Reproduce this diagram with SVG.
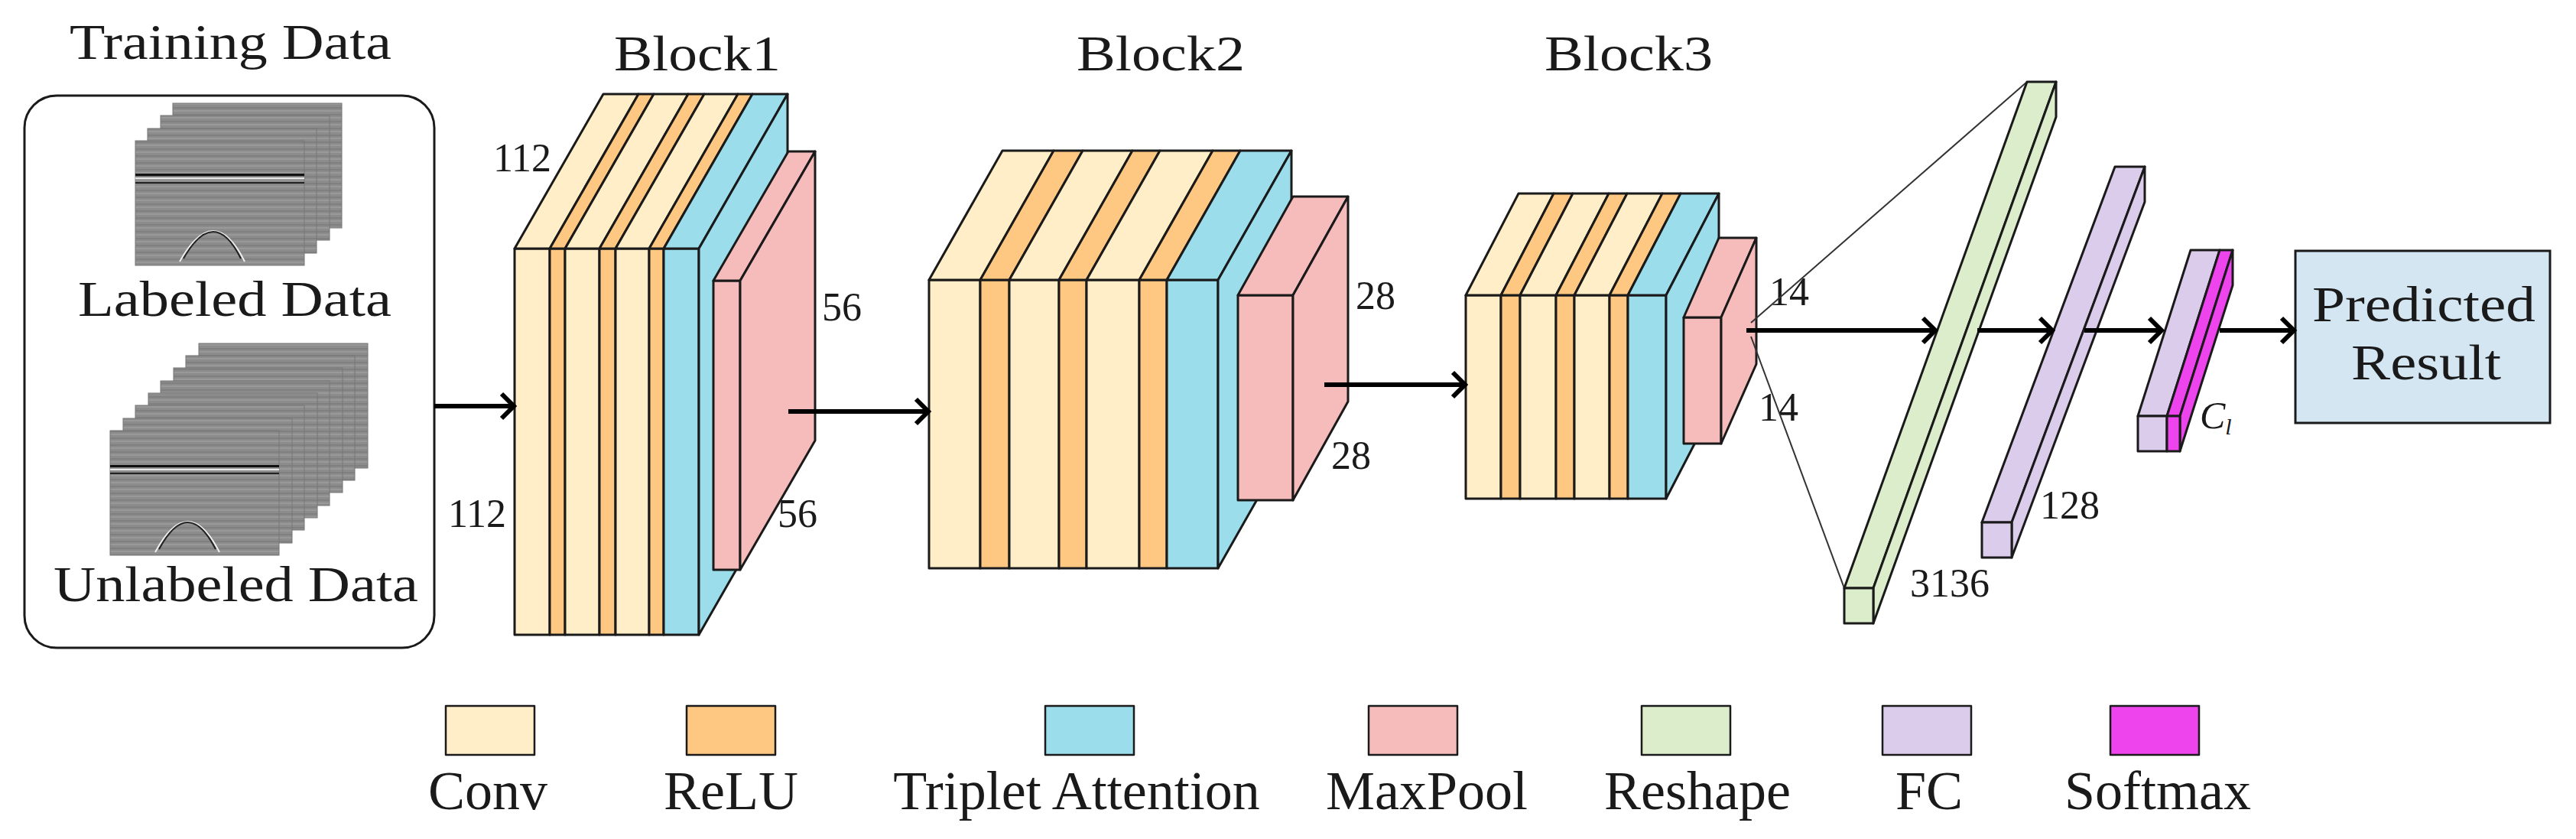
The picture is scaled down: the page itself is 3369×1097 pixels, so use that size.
<svg xmlns="http://www.w3.org/2000/svg" width="3369" height="1097" viewBox="0 0 3369 1097" font-family="'Liberation Serif', 'DejaVu Serif', 'Times New Roman', serif">
<style>
text{font-family:'Liberation Serif','DejaVu Serif','Times New Roman',serif;fill:#1a1a1a}
.t{font-size:66px}
.l{font-size:72px;text-anchor:middle}
.n{font-size:52px}
.s{stroke:#1a1a1a;stroke-width:3;stroke-linejoin:round}
.c{fill:#FFEEC8}.o{fill:#FFC882}.b{fill:#9CDDEC}.p{fill:#F6BCBC}.g{fill:#DCEDCC}.f{fill:#DCCCEC}.m{fill:#EE44EE}
.a{stroke:#000;stroke-width:6;fill:none}
.img{fill:url(#seis);stroke:#777;stroke-width:1}
</style>
<defs>
<pattern id="seis" width="8" height="9" patternUnits="userSpaceOnUse">
<rect width="8" height="9" fill="#8c8c8c"/>
<rect y="0" width="8" height="2" fill="#999"/>
<rect y="5" width="8" height="2" fill="#808080"/>
</pattern>
<path id="hd" d="M-16,-16 L0,0 L-16,16" fill="none" stroke="#000" stroke-width="6" stroke-linejoin="miter"/>
</defs>

<g id="training">
<text class="t" x="91" y="77" textLength="421" lengthAdjust="spacingAndGlyphs">Training Data</text>
<rect x="32" y="125" width="536" height="722" rx="42" fill="#fff" stroke="#1a1a1a" stroke-width="3"/>
<g id="labeled">
<rect class="img" x="226" y="135" width="221" height="163"/>
<rect class="img" x="210" y="151" width="221" height="163"/>
<rect class="img" x="193" y="168" width="221" height="163"/>
<rect class="img" x="177" y="184" width="221" height="163"/>
<rect x="177" y="227" width="221" height="3" fill="#111"/>
<rect x="177" y="232" width="221" height="2" fill="#e8e8e8"/>
<rect x="177" y="238" width="221" height="2" fill="#222"/>
<path d="M235,342 Q280,262 320,342" fill="none" stroke="#eee" stroke-width="2"/>
<path d="M240,338 Q280,268 315,338" fill="none" stroke="#222" stroke-width="2"/>
<text class="t" x="102" y="413" textLength="410" lengthAdjust="spacingAndGlyphs">Labeled Data</text>
</g>
<g id="unlabeled">
<rect class="img" x="260" y="449" width="221" height="163"/>
<rect class="img" x="243" y="465" width="221" height="163"/>
<rect class="img" x="227" y="481" width="221" height="163"/>
<rect class="img" x="210" y="498" width="221" height="163"/>
<rect class="img" x="194" y="514" width="221" height="163"/>
<rect class="img" x="177" y="530" width="221" height="163"/>
<rect class="img" x="161" y="547" width="221" height="163"/>
<rect class="img" x="144" y="563" width="221" height="163"/>
<rect x="144" y="608" width="221" height="3" fill="#111"/>
<rect x="144" y="613" width="221" height="2" fill="#e8e8e8"/>
<rect x="144" y="618" width="221" height="2" fill="#222"/>
<path d="M203,722 Q246,642 287,722" fill="none" stroke="#eee" stroke-width="2"/>
<path d="M208,718 Q246,648 282,718" fill="none" stroke="#222" stroke-width="2"/>
<text class="t" x="70" y="786" textLength="477" lengthAdjust="spacingAndGlyphs">Unlabeled Data</text>
</g>
</g>

<g id="block1">
<text class="t" x="803" y="92" textLength="218" lengthAdjust="spacingAndGlyphs">Block1</text>
<g class="s">
<rect class="c" x="673" y="325" width="46" height="505"/><rect class="o" x="719" y="325" width="20" height="505"/>
<rect class="c" x="739" y="325" width="45" height="505"/><rect class="o" x="784" y="325" width="21" height="505"/>
<rect class="c" x="805" y="325" width="44" height="505"/><rect class="o" x="849" y="325" width="19" height="505"/>
<rect class="b" x="868" y="325" width="46" height="505"/>
<polygon class="c" points="673,325 719,325 835,123 789,123"/><polygon class="o" points="719,325 739,325 855,123 835,123"/>
<polygon class="c" points="739,325 784,325 900,123 855,123"/><polygon class="o" points="784,325 805,325 921,123 900,123"/>
<polygon class="c" points="805,325 849,325 965,123 921,123"/><polygon class="o" points="849,325 868,325 984,123 965,123"/>
<polygon class="b" points="868,325 914,325 1030,123 984,123"/>
<polygon class="b" points="914,325 1030,123 1030,628 914,830"/>
<rect class="p" x="933" y="367" width="35" height="378"/>
<polygon class="p" points="933,367 968,367 1066,198 1031,198"/>
<polygon class="p" points="968,367 1066,198 1066,576 968,745"/>
</g>
<text class="n" x="645" y="224">112</text>
<text class="n" x="586" y="689">112</text>
<text class="n" x="1075" y="419">56</text>
<text class="n" x="1017" y="689">56</text>
</g>

<g id="block2">
<text class="t" x="1408" y="92" textLength="220" lengthAdjust="spacingAndGlyphs">Block2</text>
<g class="s">
<rect class="c" x="1215" y="366" width="67" height="377"/><rect class="o" x="1282" y="366" width="38" height="377"/>
<rect class="c" x="1320" y="366" width="65" height="377"/><rect class="o" x="1385" y="366" width="36" height="377"/>
<rect class="c" x="1421" y="366" width="69" height="377"/><rect class="o" x="1490" y="366" width="36" height="377"/>
<rect class="b" x="1526" y="366" width="67" height="377"/>
<polygon class="c" points="1215,366 1282,366 1378,197 1311,197"/><polygon class="o" points="1282,366 1320,366 1416,197 1378,197"/>
<polygon class="c" points="1320,366 1385,366 1481,197 1416,197"/><polygon class="o" points="1385,366 1421,366 1517,197 1481,197"/>
<polygon class="c" points="1421,366 1490,366 1586,197 1517,197"/><polygon class="o" points="1490,366 1526,366 1622,197 1586,197"/>
<polygon class="b" points="1526,366 1593,366 1689,197 1622,197"/>
<polygon class="b" points="1593,366 1689,197 1689,574 1593,743"/>
<rect class="p" x="1619" y="386" width="72" height="268"/>
<polygon class="p" points="1619,386 1691,386 1763,257 1691,257"/>
<polygon class="p" points="1691,386 1763,257 1763,525 1691,654"/>
</g>
<text class="n" x="1773" y="404">28</text>
<text class="n" x="1741" y="613">28</text>
</g>

<g id="block3">
<text class="t" x="2020" y="92" textLength="220" lengthAdjust="spacingAndGlyphs">Block3</text>
<g class="s">
<rect class="c" x="1917" y="386" width="46" height="266"/><rect class="o" x="1963" y="386" width="25" height="266"/>
<rect class="c" x="1988" y="386" width="47" height="266"/><rect class="o" x="2035" y="386" width="24" height="266"/>
<rect class="c" x="2059" y="386" width="46" height="266"/><rect class="o" x="2105" y="386" width="24" height="266"/>
<rect class="b" x="2129" y="386" width="50" height="266"/>
<polygon class="c" points="1917,386 1963,386 2032,253 1986,253"/><polygon class="o" points="1963,386 1988,386 2057,253 2032,253"/>
<polygon class="c" points="1988,386 2035,386 2104,253 2057,253"/><polygon class="o" points="2035,386 2059,386 2128,253 2104,253"/>
<polygon class="c" points="2059,386 2105,386 2174,253 2128,253"/><polygon class="o" points="2105,386 2129,386 2198,253 2174,253"/>
<polygon class="b" points="2129,386 2179,386 2248,253 2198,253"/>
<polygon class="b" points="2179,386 2248,253 2248,519 2179,652"/>
<rect class="p" x="2202" y="415" width="49" height="165"/>
<polygon class="p" points="2202,415 2251,415 2297,311 2248,311"/>
<polygon class="p" points="2251,415 2297,311 2297,476 2251,580"/>
</g>
<text class="n" x="2314" y="399">14</text>
<text class="n" x="2300" y="550">14</text>
</g>

<g id="reshape">
<line x1="2290" y1="422" x2="2651" y2="107" stroke="#333" stroke-width="2"/>
<line x1="2290" y1="440" x2="2412" y2="769" stroke="#333" stroke-width="2"/>
<g class="s">
<polygon class="g" points="2412,769 2450,769 2689,107 2651,107"/>
<polygon class="g" points="2450,769 2689,107 2689,153 2450,815"/>
<rect class="g" x="2412" y="769" width="38" height="46"/>
</g>
<text class="n" x="2498" y="780">3136</text>
</g>

<g id="fc1">
<g class="s">
<polygon class="f" points="2592,683 2631,683 2805,218 2766,218"/>
<polygon class="f" points="2631,683 2805,218 2805,264 2631,729"/>
<rect class="f" x="2592" y="683" width="39" height="46"/>
</g>
<text class="n" x="2668" y="678">128</text>
</g>

<g id="fc2">
<g class="s">
<polygon class="f" points="2796,544 2834,544 2903,327 2865,327"/>
<polygon class="m" points="2834,544 2851,544 2920,327 2903,327"/>
<polygon class="m" points="2851,544 2920,327 2920,373 2851,590"/>
<rect class="f" x="2796" y="544" width="38" height="46"/>
<rect class="m" x="2834" y="544" width="17" height="46"/>
</g>
<text x="2877" y="560" font-size="50" font-style="italic">C<tspan font-size="30" dy="8">l</tspan></text>
</g>

<g id="predicted">
<rect x="3002" y="328" width="333" height="225" fill="#D5E6F3" stroke="#1a1a1a" stroke-width="3"/>
<text class="t" x="3024" y="420" textLength="292" lengthAdjust="spacingAndGlyphs">Predicted</text>
<text class="t" x="3075" y="496" textLength="196" lengthAdjust="spacingAndGlyphs">Result</text>
</g>

<g id="connectors">
<line class="a" x1="568" y1="531" x2="670" y2="531"/><use href="#hd" x="672" y="531"/>
<line class="a" x1="1031" y1="538" x2="1212" y2="538"/><use href="#hd" x="1214" y="538"/>
<line class="a" x1="1732" y1="503" x2="1914" y2="503"/><use href="#hd" x="1916" y="503"/>
<line class="a" x1="2284" y1="432" x2="2529" y2="432"/><use href="#hd" x="2531" y="432"/>
<line class="a" x1="2586" y1="432" x2="2682" y2="432"/><use href="#hd" x="2684" y="432"/>
<line class="a" x1="2726" y1="432" x2="2825" y2="432"/><use href="#hd" x="2827" y="432"/>
<line class="a" x1="2903" y1="432" x2="2998" y2="432"/><use href="#hd" x="3000" y="432"/>
</g>

<g id="legend">
<g class="s" style="stroke-width:2.5">
<rect class="c" x="583" y="923" width="116" height="64"/>
<rect class="o" x="898" y="923" width="116" height="64"/>
<rect class="b" x="1367" y="923" width="116" height="64"/>
<rect class="p" x="1790" y="923" width="116" height="64"/>
<rect class="g" x="2147" y="923" width="116" height="64"/>
<rect class="f" x="2462" y="923" width="116" height="64"/>
<rect class="m" x="2760" y="923" width="116" height="64"/>
</g>
<text class="l" x="638" y="1058">Conv</text>
<text class="l" x="956" y="1058">ReLU</text>
<text class="l" x="1408" y="1058">Triplet Attention</text>
<text class="l" x="1866" y="1058">MaxPool</text>
<text class="l" x="2220" y="1058">Reshape</text>
<text class="l" x="2523" y="1058">FC</text>
<text class="l" x="2822" y="1058">Softmax</text>
</g>
</svg>
